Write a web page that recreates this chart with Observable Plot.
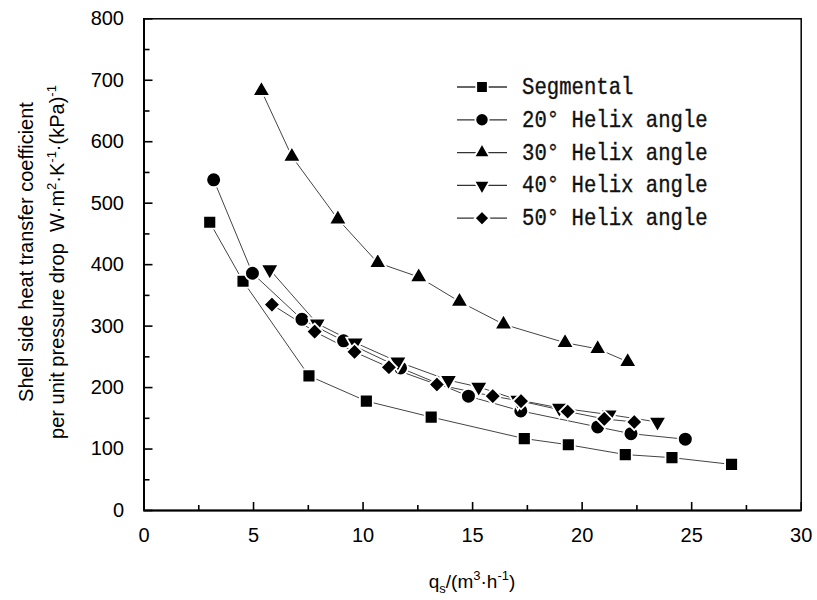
<!DOCTYPE html>
<html><head><meta charset="utf-8">
<script src="https://cdn.jsdelivr.net/npm/d3@7"></script>
<script src="https://cdn.jsdelivr.net/npm/@observablehq/plot@0.6"></script>
<style>
html,body{margin:0;padding:0;background:#fff;}
#chart{position:relative;width:817px;height:600px;}
svg{display:block;}
</style></head><body><div id="chart"></div>
<script>
const seriesNames = ["Segmental", "20° Helix angle", "30° Helix angle", "40° Helix angle", "50° Helix angle"];

const segX = [3.0, 4.52, 7.53, 10.15, 13.11, 17.36, 19.37, 21.97, 24.1, 26.82];
const segY = [469, 373, 219, 178, 152, 117, 107, 91, 86, 75];

const h20X = [3.18, 4.95, 7.21, 9.11, 11.71, 14.81, 17.2, 20.71, 22.23, 24.71];
const h20Y = [538, 386, 311, 276, 232, 186, 162, 136, 125, 116];

const h30X = [5.36, 6.75, 8.85, 10.67, 12.54, 14.4, 16.41, 19.22, 20.71, 22.08];
const h30Y = [683, 576, 474, 403, 380, 340, 303, 273, 263, 242];

const h40X = [5.74, 7.91, 9.64, 11.59, 13.9, 15.28, 17.06, 18.96, 21.24, 23.44];
const h40Y = [392, 304, 273, 242, 212, 201, 180, 167, 156, 144];

const h50X = [5.84, 7.79, 9.61, 11.18, 13.37, 15.92, 17.21, 19.34, 21.01, 22.38];
const h50Y = [335, 291, 258, 233, 205, 186, 178, 161, 149, 144];

const xTicks = [0, 5, 10, 15, 20, 25, 30];
const xMinorTicks = [2.5, 7.5, 12.5, 17.5, 22.5, 27.5];
const yTicks = [0, 100, 200, 300, 400, 500, 600, 700, 800];
const yMinorTicks = [50, 150, 250, 350, 450, 550, 650, 750];

const seriesX = [segX, h20X, h30X, h40X, h50X];
const seriesY = [segY, h20Y, h30Y, h40Y, h50Y];
const symbols = ["square", "circle", "triangle", "triangle", "diamond2"];
const rotations = [0, 0, 0, 180, 0];
const radii = [7.3, 7.4, 6.6, 6.6, 7.4];

const table = [];
seriesNames.forEach((name, i) => {
  seriesX[i].forEach((x, j) => table.push({series: name, x, y: seriesY[i][j]}));
});

const W = 817, H = 600, mL = 143.5, mR = 16.3, mT = 18.3, mB = 90;
const innerW = W - mL - mR, innerH = H - mT - mB;
const xMax = 30, yMax = 800;
// tick lengths in pixels converted to data units
const tx = px => px / innerW * xMax;
const ty = px => px / innerH * yMax;

const dotMarks = seriesNames.map((name, i) =>
  Plot.dot(table.filter(d => d.series === name), {
    x: "x", y: "y", symbol: symbols[i], rotate: rotations[i], r: radii[i],
    fill: "#000", stroke: "#fff", strokeWidth: 1.8
  })
);

const plot = Plot.plot({
  width: W, height: H,
  marginLeft: mL, marginRight: mR, marginTop: mT, marginBottom: mB,
  x: {domain: [0, xMax]},
  y: {domain: [0, yMax]},
  style: {fontFamily: "'Liberation Sans', Arial, sans-serif", fontSize: "20px", color: "#000", background: "#fff"},
  marks: [
    Plot.frame({stroke: "#000", strokeWidth: 1.5}),
    Plot.line(table, {x: "x", y: "y", z: "series", stroke: "#444", strokeWidth: 1}),
    ...dotMarks,
    // inward tick marks
    Plot.ruleX(xTicks, {x: d => d, y1: 0, y2: ty(8), stroke: "#000", strokeWidth: 1.6}),
    Plot.ruleX(xMinorTicks, {x: d => d, y1: 0, y2: ty(5), stroke: "#000", strokeWidth: 1.6}),
    Plot.ruleY(yTicks, {y: d => d, x1: 0, x2: tx(9), stroke: "#000", strokeWidth: 1.6}),
    Plot.ruleY(yMinorTicks, {y: d => d, x1: 0, x2: tx(6), stroke: "#000", strokeWidth: 1.6}),
    Plot.axisX({ticks: xTicks, tickSize: 0, tickPadding: 17, label: null, fontSize: 20}),
    Plot.axisY({ticks: yTicks, tickSize: 0, tickPadding: 20, label: null, fontSize: 20}),
    Plot.ruleX([0], {stroke: "#000", strokeWidth: 2}),
    Plot.ruleY([0], {stroke: "#000", strokeWidth: 2})
  ]
});
document.getElementById("chart").appendChild(plot);

const svg = d3.select(plot);

// Y axis title (two lines)
const yt = svg.append("g").attr("font-family", "'Liberation Sans', Arial, sans-serif").attr("font-size", 20).attr("fill", "#000");
yt.append("text").attr("transform", "translate(33,252) rotate(-90)").attr("text-anchor", "middle")
  .text("Shell side heat transfer coefficient");
const l2 = yt.append("text").attr("transform", "translate(64,262) rotate(-90)").attr("text-anchor", "middle");
l2.append("tspan").text("per unit pressure drop  W·m");
l2.append("tspan").attr("dy", -8).attr("font-size", 13).text("2");
l2.append("tspan").attr("dy", 8).text("·K");
l2.append("tspan").attr("dy", -8).attr("font-size", 13).text("-1");
l2.append("tspan").attr("dy", 8).text("·(kPa)");
l2.append("tspan").attr("dy", -8).attr("font-size", 13).text("-1");

// X axis title
const xt = svg.append("text").attr("x", 472).attr("y", 588).attr("text-anchor", "middle")
  .attr("font-family", "'Liberation Sans', Arial, sans-serif").attr("font-size", 19).attr("fill", "#000");
xt.append("tspan").text("q");
xt.append("tspan").attr("dy", 5).attr("font-size", 13).text("s");
xt.append("tspan").attr("dy", -5).text("/(m");
xt.append("tspan").attr("dy", -8).attr("font-size", 13).text("3");
xt.append("tspan").attr("dy", 8).text("·h");
xt.append("tspan").attr("dy", -8).attr("font-size", 13).text("-1");
xt.append("tspan").attr("dy", 8).text(")");

// Legend
const symMap = {square: d3.symbolSquare, circle: d3.symbolCircle, triangle: d3.symbolTriangle, diamond2: d3.symbolDiamond2};
const legendTop = 87, legendStep = 32.8;
const lg = svg.append("g");
seriesNames.forEach((name, i) => {
  const y = legendTop + i * legendStep;
  const g = lg.append("g").attr("transform", `translate(0,${y})`);
  g.append("line").attr("x1", 457).attr("x2", 507).attr("y1", 0).attr("y2", 0).attr("stroke", "#333").attr("stroke-width", 1.3);
  g.append("path").attr("d", d3.symbol(symMap[symbols[i]], Math.PI * radii[i] * radii[i] * 0.8)())
    .attr("transform", `translate(482,0) rotate(${rotations[i]})`)
    .attr("fill", "#000").attr("stroke", "#fff").attr("stroke-width", 1.8);
  g.append("text").attr("transform", "translate(522,7) scale(0.86,1)")
    .attr("text-anchor", "start")
    .attr("font-family", "'Liberation Mono', 'Courier New', monospace").attr("font-size", 24)
    .attr("fill", "#111").attr("stroke", "#111").attr("stroke-width", 0.35)
    .text(name);
});
</script></body></html>
